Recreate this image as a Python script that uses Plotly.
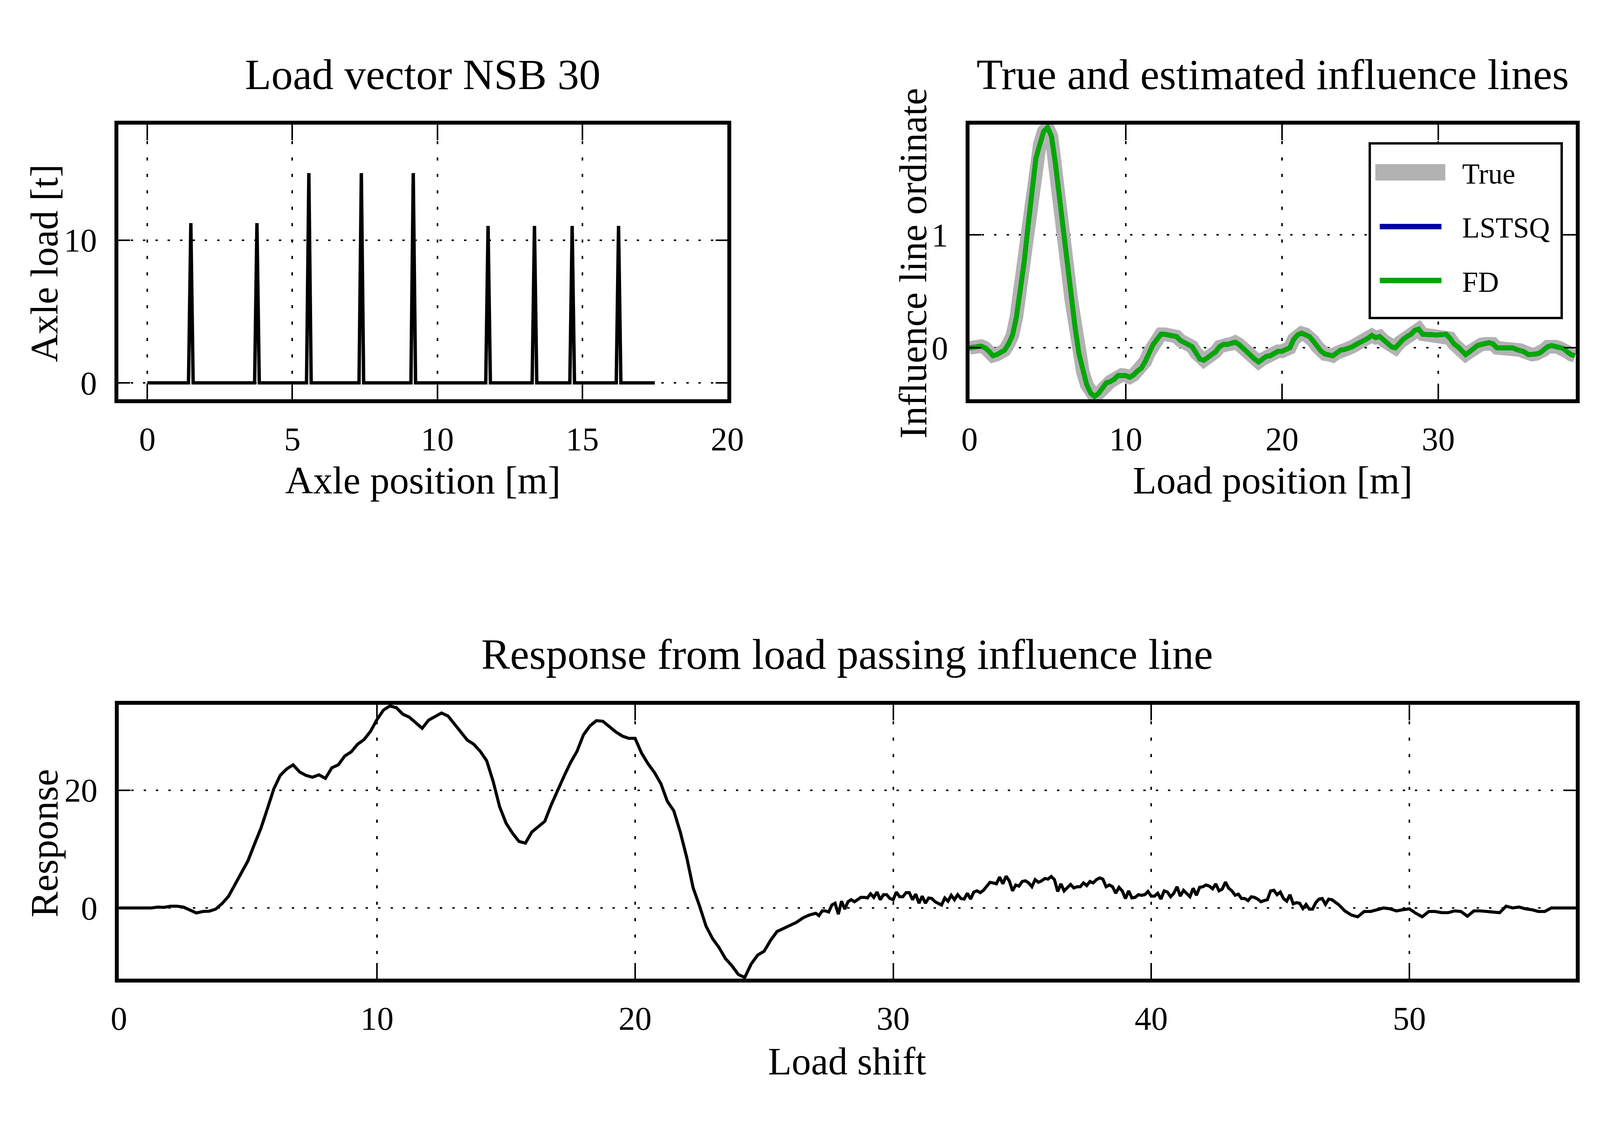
import numpy as np
import plotly.graph_objects as go

# Load vector NSB 30 (axle position [m], axle load [t])
axle_pos = [1.5, 3.78, 5.57, 7.38, 9.17, 11.75, 13.35, 14.65, 16.25]
axle_load = [11.2, 11.2, 14.7, 14.7, 14.7, 11.0, 11.0, 11.0, 11.0]
train_end = 17.5
spike_half = 0.08

# influence line ordinate, read every 0.25 m from 0 to 38.75 m
il_step = 0.25
il_true = [
    0.0, 0.01, 0.01, 0.015, 0.0, -0.03, -0.07, -0.06,
    -0.04, -0.02, 0.035, 0.11, 0.27, 0.51, 0.76, 1.08,
    1.37, 1.675, 1.80, 1.915, 1.95, 1.87, 1.63, 1.34,
    1.05, 0.73, 0.44, 0.19, -0.05, -0.21, -0.325, -0.40,
    -0.43, -0.405, -0.36, -0.31, -0.30, -0.28, -0.245, -0.24,
    -0.245, -0.26, -0.24, -0.205, -0.18, -0.12, -0.04, 0.03,
    0.075, 0.12, 0.12, 0.115, 0.11, 0.10, 0.065, 0.045,
    0.03, 0.01, -0.045, -0.10, -0.11, -0.085, -0.07, -0.035,
    0.01, 0.03, 0.03, 0.035, 0.05, 0.03, -0.005, -0.045,
    -0.075, -0.10, -0.125, -0.10, -0.075, -0.07, -0.055, -0.03,
    -0.03, -0.02, 0.0, 0.075, 0.115, 0.13, 0.12, 0.10,
    0.06, 0.01, -0.03, -0.055, -0.06, -0.07, -0.045, -0.02,
    -0.015, -0.005, 0.01, 0.03, 0.045, 0.06, 0.085, 0.11,
    0.09, 0.10, 0.065, 0.045, 0.01, 0.0, 0.045, 0.075,
    0.10, 0.12, 0.155, 0.165, 0.12, 0.115, 0.115, 0.115,
    0.115, 0.12, 0.12, 0.085, 0.035, 0.01, -0.03, -0.06,
    -0.035, -0.005, 0.02, 0.03, 0.035, 0.045, 0.035, 0.0,
    0.0, 0.0, -0.005, 0.0, -0.015, -0.02, -0.035, -0.06,
    -0.06, -0.055, -0.045, -0.02, 0.01, 0.02, 0.01, 0.0,
    -0.005, -0.035, -0.06, -0.07,
]
il_lstsq = list(il_true)
il_fd = list(il_true)

# response from the load passing, read in three stretches
# (start, step, values)
resp_a_start, resp_a_step = 0.0, 0.25
response_a = [
    0, 0, 0, 0, 0, 0, 0.15, 0.1,
    0.3, 0.3, 0.15, -0.3, -0.85, -0.6, -0.55, -0.2,
    0.75, 2.0, 4.0, 6.0, 8.0, 10.8, 13.5, 16.8,
    20.2, 22.5, 23.6, 24.3, 23.1, 22.5, 22.2, 22.6,
    22.0, 23.8, 24.3, 25.8, 26.5, 27.8, 28.6, 30.0,
    32.0, 33.6, 34.3, 34.0, 32.9, 32.4, 31.5, 30.5,
    31.9, 32.5, 33.1, 32.6, 31.2, 30.0, 28.5, 27.8,
    26.6, 25.0, 21.5, 17.2, 14.4, 12.7, 11.3, 11.0,
    12.9, 13.8, 14.7, 17.5, 20.1, 22.4, 24.7, 26.6,
    29.4, 30.9, 31.8, 31.7, 30.8, 29.9, 29.2, 28.8,
    28.8, 26.3, 24.5, 23.0, 21.1, 18.1, 16.5, 12.9,
    8.6, 3.4, 0.3, -3.1, -5.2, -6.7, -8.6, -9.8,
    -11.3, -11.8, -9.5, -8.0, -7.35, -5.5, -4.0, -3.5,
    -3.06, -2.45, -1.7, -1.2, -0.9,
]
resp_b_start, resp_b_step = 27.125, 0.125
response_b = [
    -1.3, -0.5, -0.5, -0.7, 0.5, 0.8, -1.05, 1.15,
    -0.2, 1.05, 1.4, 1.05, 1.5, 1.8, 1.8, 1.7,
    2.4, 1.8, 2.7, 1.4, 2.25, 2.25, 1.6, 1.4,
    2.7, 1.9, 1.9, 2.6, 2.6, 1.4, 2.35, 0.8,
    2.0, 0.8, 1.7, 1.6, 1.05, 0.7, 0.5, 1.7,
    1.15, 2.15, 1.4, 2.25, 1.6, 1.5, 2.5, 1.5,
    2.7, 2.9, 2.6, 3.0, 3.7, 4.35, 4.25, 4.1,
    5.25, 4.1, 5.4, 4.6, 2.9, 3.9, 3.7, 4.5,
    4.6, 4.25, 3.6, 4.8, 4.35, 4.6, 5.0, 4.9,
    5.35, 4.8, 2.8, 4.1, 2.9, 3.4, 4.0, 3.4,
    3.6, 3.6, 4.25, 3.8, 4.5, 4.25, 4.8, 5.1,
    4.9, 3.6, 3.9, 3.6, 2.5, 3.5, 2.9, 1.6,
    2.9, 1.7, 1.8, 2.25, 2.15, 2.25, 2.8, 2.0,
    2.0, 2.5, 1.5, 2.9, 2.7, 1.9, 2.5, 3.6,
    2.0, 3.0, 2.35, 1.9, 3.35, 2.15, 3.5, 3.6,
    3.9, 3.7, 3.25, 4.1, 2.9, 3.2, 4.4, 3.35,
    2.9, 2.15, 2.35, 1.6, 1.6, 1.25, 1.9, 1.8,
    1.5, 1.05, 1.25, 1.4, 2.9, 3.0, 2.25, 2.7,
    1.6, 1.15, 2.25, 0.7, 0.9, 0.8, -0.1, 0.6,
    -0.2, -0.2, 0.9, 1.5, 1.6, 0.6, 1.5, 1.4,
]
resp_c_start, resp_c_step = 47.25, 0.25
response_c = [
    0.6, -0.5, -1.2,
    -1.5, -0.6, -0.6, -0.3, 0.0, -0.15, -0.5, -0.3,
    -0.15, -0.9, -1.5, -0.6, -0.6, -0.8, -0.8, -0.5,
    -0.6, -1.4, -0.5, -0.5, -0.6, -0.8, -0.8, 0.3,
    0.0, 0.15, -0.15, -0.3, -0.6, -0.6, 0.0, 0.0,
    0.0, 0.0, 0.0,
]

# build the load vector line (triangular spike per axle)
load_x = [0.0]
load_y = [0.0]
for p, w in zip(axle_pos, axle_load):
    load_x += [p - spike_half, p, p + spike_half]
    load_y += [0.0, w, 0.0]
load_x.append(train_end)
load_y.append(0.0)

il_x = np.arange(len(il_true)) * il_step

resp_x = []
resp_y = []
for start, step, vals in [(resp_a_start, resp_a_step, response_a),
                          (resp_b_start, resp_b_step, response_b),
                          (resp_c_start, resp_c_step, response_c)]:
    resp_x += list(start + np.arange(len(vals)) * step)
    resp_y += vals

FONT = "Liberation Serif"
# positions are measured in reference pixels (5444 x 2872). The page only
# shows 4096 css px across, so horizontal sizes are squeezed by SX.
REF_W, REF_H = 5444, 2872
W_CSS, H_CSS = 4096, 2872
SX = W_CSS / REF_W
FS = 0.8    # font scale
LW = 0.87   # line width scale


def fx(v):
    return v / REF_W


def fy(v):
    return 1 - v / REF_H


def axis_style(is_x, **kw):
    d = dict(
        showline=True, linecolor="black", linewidth=11 * LW, mirror="allticks",
        ticks="inside", ticklen=40 if is_x else 40 * SX, tickwidth=5 * LW,
        tickcolor="black", showgrid=True, gridcolor="black", gridwidth=5 * LW,
        griddash="8px,34px" if is_x else "%.1fpx,%.1fpx" % (8 * SX, 34 * SX),
        zeroline=False, automargin=False,
        ticklabelstandoff=19 if is_x else 28,
        tickfont=dict(family=FONT, size=106 * FS, color="black"),
    )
    d.update(kw)
    return d


fig = go.Figure()

fig.add_trace(go.Scatter(x=load_x, y=load_y, mode="lines", showlegend=False,
                         line=dict(color="black", width=10 * LW), xaxis="x", yaxis="y"))

fig.add_trace(go.Scatter(x=il_x, y=il_true, mode="lines", name="True", showlegend=False,
                         line=dict(color="#b2b2b2", width=40 * LW), xaxis="x2", yaxis="y2"))
fig.add_trace(go.Scatter(x=il_x, y=il_lstsq, mode="lines", name="LSTSQ", showlegend=False,
                         line=dict(color="#0000a8", width=14 * LW), xaxis="x2", yaxis="y2"))
fig.add_trace(go.Scatter(x=il_x, y=il_fd, mode="lines", name="FD", showlegend=False,
                         line=dict(color="#00a800", width=14 * LW), xaxis="x2", yaxis="y2"))

fig.add_trace(go.Scatter(x=resp_x, y=resp_y, mode="lines", showlegend=False,
                         line=dict(color="black", width=9 * LW), xaxis="x3", yaxis="y3"))

top_dom = [fy(1014), fy(311)]
bot_dom = [fy(2497), fy(1796)]

fig.update_layout(
    template="none",
    width=W_CSS, height=H_CSS,
    margin=dict(l=0, r=0, t=0, b=0, pad=0),
    paper_bgcolor="white", plot_bgcolor="white",
    showlegend=False,
    xaxis=axis_style(True, domain=[fx(392), fx(2464)], range=[-1, 20],
                     tickvals=[0, 5, 10, 15, 20], anchor="y"),
    yaxis=axis_style(False, domain=top_dom, range=[-1.15, 18.1],
                     tickvals=[0, 10], anchor="x"),
    xaxis2=axis_style(True, domain=[fx(3288), fx(5351)], range=[0, 38.8],
                      tickvals=[0, 10, 20, 30], anchor="y2"),
    yaxis2=axis_style(False, domain=top_dom, range=[-0.455, 1.975],
                      tickvals=[0, 1], anchor="x2"),
    xaxis3=axis_style(True, domain=[fx(394), fx(5351)], range=[0, 56.45],
                      tickvals=[0, 10, 20, 30, 40, 50], anchor="y3"),
    yaxis3=axis_style(False, domain=bot_dom, range=[-12.0, 34.5],
                      tickvals=[0, 20], anchor="x3"),
)

# legend box drawn by hand so the wide grey swatch keeps its thickness
fig.add_shape(type="rect", xref="paper", yref="paper",
              x0=fx(4650), x1=fx(5303), y0=fy(806), y1=fy(359),
              line=dict(color="black", width=7 * LW), fillcolor="white", layer="above")
legend_rows = [
    ("True", "#b2b2b2", 42, 433, 4669, 4907),
    ("LSTSQ", "#0000a8", 14, 572, 4684, 4894),
    ("FD", "#00a800", 14, 710, 4684, 4894),
]
for name, color, width, ry, x0, x1 in legend_rows:
    fig.add_shape(type="line", xref="paper", yref="paper",
                  x0=fx(x0), x1=fx(x1), y0=fy(ry), y1=fy(ry),
                  line=dict(color=color, width=width), layer="above")
    fig.add_annotation(text=name, x=fx(4962), y=fy(ry + 4), xref="paper", yref="paper",
                       xanchor="left", yanchor="middle", showarrow=False,
                       font=dict(family=FONT, size=98 * 0.75, color="black"))

labels = [
    ("Load vector NSB 30", 1428, 183, 138, 0),
    ("True and estimated influence lines", 4319, 183, 138, 0),
    ("Response from load passing influence line", 2872, 1667, 138, 0),
    ("Axle position [m]", 1428, 1221, 124, 0),
    ("Load position [m]", 4319, 1221, 124, 0),
    ("Load shift", 2872, 2708, 124, 0),
    ("Axle load [t]", 140, 666, 124, -90),
    ("Influence line ordinate", 3095, 666, 124, -90),
    ("Response", 140, 2150, 124, -90),
]
for text, lx, ly, size, angle in labels:
    fig.add_annotation(
        text=text, x=fx(lx), y=fy(ly), xref="paper", yref="paper",
        xanchor="center", yanchor="middle", showarrow=False, textangle=angle,
        font=dict(family=FONT, size=size * FS, color="black"),
    )

fig.write_html("out.html")
